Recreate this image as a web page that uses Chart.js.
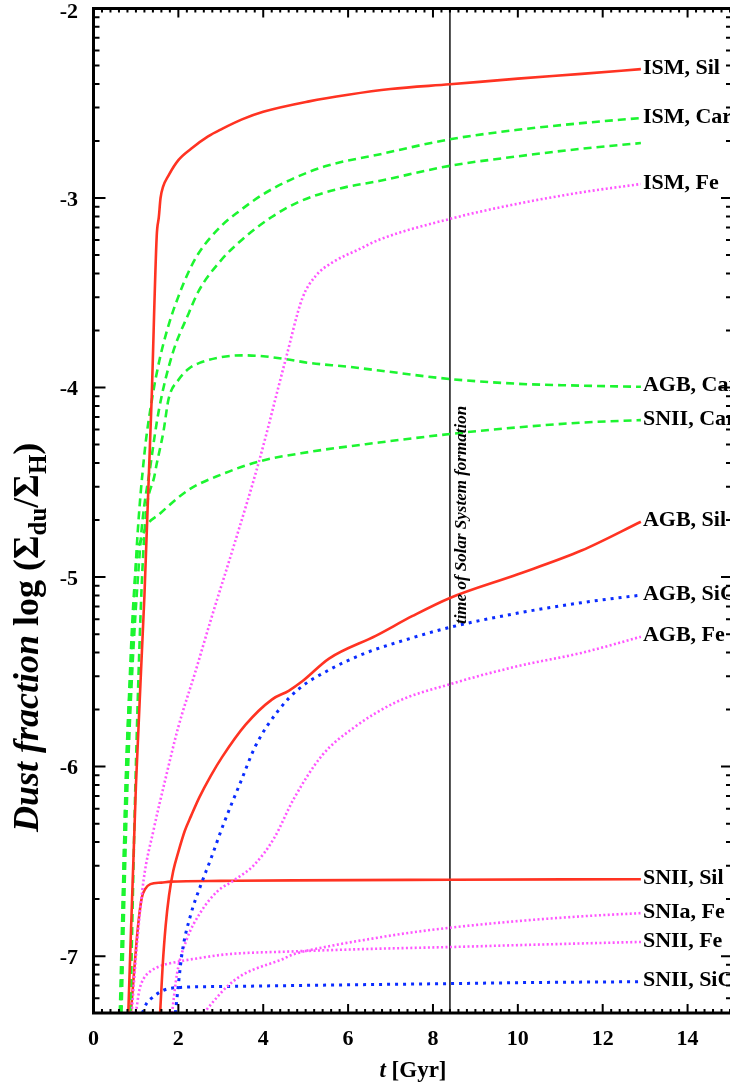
<!DOCTYPE html>
<html><head><meta charset="utf-8">
<script src="https://cdn.jsdelivr.net/npm/chart.js@4/dist/chart.umd.min.js"></script>
<style>html,body{margin:0;padding:0;background:#fff;}canvas{display:block;}</style>
</head><body>
<canvas id="c" width="730" height="1090"></canvas>
<script>
// ---- axes ----
const X_MIN = 0, X_MAX = 15, Y_MIN = -7.3, Y_MAX = -2;
const xTickValues = [0, 2, 4, 6, 8, 10, 12, 14];
const yTickValues = [-2, -3, -4, -5, -6, -7];
const tSolar = 8.4;
const solarText = 'time of Solar System formation';

// ---- series (t in Gyr, log dust fraction) ----
const ismSilT = [0.82, 1.0, 1.2, 1.37, 1.49, 1.54, 1.58, 1.64, 1.77, 2.0, 2.3, 2.7, 3.03, 3.5, 4.0, 5.08, 6.0, 7.0, 8.4, 10.0, 11.5, 12.9];
const ismSilY = [-7.3, -6.1, -5.1, -4.06, -3.2, -3.1, -3.0, -2.94, -2.88, -2.80, -2.74, -2.675, -2.635, -2.585, -2.545, -2.49, -2.455, -2.425, -2.40, -2.37, -2.345, -2.32];

const ismCarT = [0.64, 0.76, 0.9, 1.02, 1.2, 1.38, 1.55, 1.77, 2.0, 2.24, 2.48, 3.0, 3.43, 4.0, 4.68, 5.5, 6.73, 8.4, 10.0, 11.5, 12.9];
const ismCarY = [-7.3, -6.07, -5.4, -4.84, -4.35, -4.06, -3.86, -3.67, -3.52, -3.39, -3.29, -3.15, -3.07, -2.98, -2.90, -2.83, -2.77, -2.69, -2.64, -2.605, -2.578];

const ismCar2T = [0.66, 0.8, 1.1, 1.35, 1.54, 1.85, 2.24, 2.48, 3.0, 3.5, 4.2, 4.84, 5.8, 6.73, 8.4, 10.0, 11.5, 12.9];
const ismCar2Y = [-7.3, -6.1, -4.84, -4.4, -4.12, -3.83, -3.61, -3.49, -3.33, -3.22, -3.10, -3.02, -2.95, -2.91, -2.83, -2.78, -2.74, -2.71];

const ismFeT = [0.9, 1.02, 1.18, 1.42, 1.69, 2.0, 2.4, 2.8, 3.3, 3.9, 4.53, 4.92, 5.24, 5.63, 6.26, 6.73, 8.4, 10.0, 11.5, 12.9];
const ismFeY = [-7.3, -6.95, -6.60, -6.33, -6.07, -5.79, -5.50, -5.20, -4.84, -4.39, -3.85, -3.53, -3.41, -3.34, -3.27, -3.22, -3.11, -3.03, -2.97, -2.926];

const agbCarT = [0.87, 0.99, 1.18, 1.45, 1.65, 1.77, 2.0, 2.25, 2.5, 3.0, 3.5, 4.0, 4.53, 5.08, 6.0, 6.73, 8.4, 10.0, 11.5, 12.9];
const agbCarY = [-7.3, -6.07, -4.84, -4.45, -4.23, -4.06, -3.96, -3.90, -3.87, -3.84, -3.83, -3.835, -3.85, -3.87, -3.89, -3.91, -3.955, -3.98, -3.99, -3.996];

const snIICarT = [0.62, 0.75, 0.9, 1.02, 1.15, 1.25, 1.54, 2.24, 3.0, 3.9, 5.08, 6.73, 8.4, 10.0, 11.5, 12.9];
const snIICarY = [-7.3, -6.2, -5.3, -4.9, -4.79, -4.73, -4.67, -4.54, -4.46, -4.39, -4.34, -4.29, -4.245, -4.21, -4.185, -4.172];

const agbSilT = [1.57, 1.63, 1.70, 1.78, 1.88, 2.0, 2.15, 2.3, 2.5, 2.76, 3.03, 3.58, 4.21, 4.6, 4.92, 5.55, 6.65, 7.52, 8.4, 10.0, 11.5, 12.9];
const agbSilY = [-7.3, -7.05, -6.84, -6.68, -6.55, -6.45, -6.34, -6.26, -6.16, -6.05, -5.95, -5.78, -5.645, -5.60, -5.55, -5.43, -5.31, -5.205, -5.11, -4.985, -4.86, -4.708];

const agbSiCT = [1.93, 2.09, 2.28, 2.52, 2.76, 3.07, 3.47, 3.82, 4.37, 4.84, 5.55, 6.42, 7.52, 8.4, 10.0, 11.5, 12.9];
const agbSiCY = [-7.3, -6.98, -6.79, -6.63, -6.49, -6.30, -6.08, -5.89, -5.70, -5.59, -5.49, -5.40, -5.32, -5.265, -5.19, -5.135, -5.095];

const agbFeT = [1.85, 1.97, 2.2, 2.52, 2.91, 3.31, 3.78, 4.25, 4.72, 5.39, 6.1, 7.13, 8.4, 10.0, 11.5, 12.9];
const agbFeY = [-7.3, -7.09, -6.91, -6.77, -6.66, -6.60, -6.52, -6.38, -6.17, -5.94, -5.80, -5.66, -5.565, -5.47, -5.40, -5.315];

const snIISilT = [0.88, 0.95, 1.02, 1.08, 1.14, 1.22, 1.34, 1.6, 1.81, 3.0, 4.72, 8.4, 12.9];
const snIISilY = [-7.3, -7.1, -6.91, -6.78, -6.69, -6.645, -6.62, -6.612, -6.607, -6.603, -6.60, -6.597, -6.594];

const snIaFeT = [2.6, 2.9, 3.15, 3.5, 3.78, 4.41, 4.72, 5.5, 6.5, 7.5, 8.4, 10.0, 11.5, 12.9];
const snIaFeY = [-7.3, -7.22, -7.16, -7.10, -7.07, -7.02, -6.99, -6.95, -6.91, -6.875, -6.85, -6.815, -6.79, -6.773];

const snIIFeT = [1.0, 1.08, 1.18, 1.34, 1.6, 1.97, 2.5, 3.15, 4.72, 6.5, 8.4, 10.0, 11.5, 12.9];
const snIIFeY = [-7.3, -7.18, -7.12, -7.08, -7.05, -7.03, -7.01, -6.99, -6.975, -6.962, -6.952, -6.942, -6.933, -6.925];

const snIISiCT = [1.15, 1.25, 1.38, 1.65, 2.05, 3.15, 4.72, 6.5, 8.4, 10.0, 11.5, 12.9];
const snIISiCY = [-7.3, -7.25, -7.22, -7.18, -7.165, -7.16, -7.155, -7.15, -7.145, -7.14, -7.137, -7.135];

const seriesList = [
  ['ISM, Sil', 'sil', ismSilT, ismSilY],
  ['ISM, Car', 'car', ismCarT, ismCarY],
  ['', 'car', ismCar2T, ismCar2Y],
  ['ISM, Fe', 'fe', ismFeT, ismFeY],
  ['AGB, Car', 'car', agbCarT, agbCarY],
  ['SNII, Car', 'car', snIICarT, snIICarY],
  ['AGB, Sil', 'sil', agbSilT, agbSilY],
  ['AGB, SiC', 'sic', agbSiCT, agbSiCY],
  ['AGB, Fe', 'fe', agbFeT, agbFeY],
  ['SNII, Sil', 'sil', snIISilT, snIISilY],
  ['SNIa, Fe', 'fe', snIaFeT, snIaFeY],
  ['SNII, Fe', 'fe', snIIFeT, snIIFeY],
  ['SNII, SiC', 'sic', snIISiCT, snIISiCY]
];

const styles = {
  sil: {borderColor: '#ff3322', borderWidth: 2.6, borderDash: []},
  car: {borderColor: '#1cf530', borderWidth: 2.6, borderDash: [8, 5]},
  fe:  {borderColor: '#ff55ff', borderWidth: 2.6, borderDash: [2, 2.4]},
  sic: {borderColor: '#0a2cff', borderWidth: 3, borderDash: [3, 5]}
};

const datasets = seriesList.map(([name, kind, ts, ys]) => Object.assign({
  label: name,
  data: ts.map((t, i) => ({x: t, y: ys[i]})),
  pointRadius: 0,
  fill: false,
  cubicInterpolationMode: 'monotone',
  clip: 0
}, styles[kind]));

datasets.push({
  label: '__solar',
  data: [{x: tSolar, y: Y_MIN}, {x: tSolar, y: Y_MAX}],
  borderColor: '#000', borderWidth: 1.4, pointRadius: 0, clip: 0
});

const SERIF = '"Liberation Serif", "DejaVu Serif", serif';

function drawPieces(ctx, pieces, x0, y0) {
  let x = x0;
  for (const p of pieces) {
    ctx.font = p.font;
    ctx.fillText(p.text, x, y0 + (p.dy || 0));
    x += ctx.measureText(p.text).width;
  }
  return x - x0;
}
function piecesWidth(ctx, pieces) {
  let w = 0;
  for (const p of pieces) { ctx.font = p.font; w += ctx.measureText(p.text).width; }
  return w;
}

const frame = {
  id: 'frame',
  afterDraw(chart) {
    const {ctx, chartArea: a, scales: {x, y}} = chart;
    ctx.save();
    ctx.strokeStyle = '#000';
    ctx.fillStyle = '#000';
    ctx.lineCap = 'butt';

    // ticks
    ctx.lineWidth = 2;
    ctx.beginPath();
    for (let i = 0; i <= 75; i++) {
      const v = i / 5;
      const px = x.getPixelForValue(v);
      const major = (i % 10 === 0);
      const l = major ? 9 : 4;
      ctx.moveTo(px, a.bottom); ctx.lineTo(px, a.bottom - l);
      ctx.moveTo(px, a.top); ctx.lineTo(px, a.top + l);
    }
    for (let d = -8; d <= -2; d++) {
      for (let k = 1; k <= 9; k++) {
        const v = d + Math.log10(k);
        if (v < Y_MIN - 1e-9 || v > Y_MAX + 1e-9) continue;
        const py = y.getPixelForValue(v);
        const major = (k === 1);
        ctx.moveTo(a.left, py); ctx.lineTo(a.left + (major ? 12 : 6), py);
        ctx.moveTo(a.right, py); ctx.lineTo(a.right - (major ? 9 : 4), py);
      }
    }
    ctx.stroke();

    // axis lines
    ctx.lineWidth = 3;
    ctx.beginPath();
    ctx.moveTo(a.left, a.top - 1.5); ctx.lineTo(a.left, a.bottom + 1.5);
    ctx.moveTo(a.left - 1.5, a.bottom); ctx.lineTo(a.right, a.bottom);
    ctx.moveTo(a.left - 1.5, a.top); ctx.lineTo(a.right, a.top);
    ctx.stroke();

    // tick labels
    ctx.font = '700 22px ' + SERIF;
    ctx.textAlign = 'center';
    ctx.textBaseline = 'alphabetic';
    for (const v of xTickValues) {
      ctx.fillText(String(v), x.getPixelForValue(v), 1045);
    }
    ctx.textAlign = 'right';
    for (const v of yTickValues) {
      const py = y.getPixelForValue(v);
      ctx.fillText(String(v), 78, Math.max(py + 7.5, 18));
    }

    // x title
    const xt = [
      {text: 't', font: 'italic 700 23px ' + SERIF},
      {text: ' [Gyr]', font: '700 23px ' + SERIF}
    ];
    ctx.textAlign = 'left';
    const xw = piecesWidth(ctx, xt);
    drawPieces(ctx, xt, 413 - xw / 2, 1077);

    // y title
    const yt = [
      {text: 'Dust fraction', font: 'italic 700 36px ' + SERIF},
      {text: ' log (\u03A3', font: '700 36px ' + SERIF},
      {text: 'du', font: '700 25px ' + SERIF, dy: 8},
      {text: '/\u03A3', font: '700 36px ' + SERIF},
      {text: 'H', font: '700 25px ' + SERIF, dy: 8},
      {text: ')', font: '700 36px ' + SERIF}
    ];
    ctx.save();
    ctx.translate(38, 832);
    ctx.rotate(-Math.PI / 2);
    drawPieces(ctx, yt, 0, 0);
    ctx.restore();

    // solar system text
    ctx.save();
    ctx.font = 'italic 700 17px ' + SERIF;
    ctx.translate(466, 515);
    ctx.rotate(-Math.PI / 2);
    ctx.textAlign = 'center';
    ctx.fillText(solarText, 0, 0);
    ctx.restore();

    // end labels
    ctx.font = '700 22px ' + SERIF;
    ctx.textAlign = 'left';
    ctx.textBaseline = 'middle';
    chart.data.datasets.forEach((ds, i) => {
      if (!ds.label || ds.label === '__solar') return;
      const pts = chart.getDatasetMeta(i).data;
      const p = pts[pts.length - 1];
      ctx.fillText(ds.label, p.x + 2, p.y - 1);
    });
    ctx.restore();
  }
};

new Chart(document.getElementById('c'), {
  type: 'line',
  data: {datasets},
  options: {
    responsive: false,
    animation: false,
    events: [],
    layout: {padding: {left: 93.5, right: 0, top: 8.5, bottom: 77}},
    plugins: {legend: {display: false}, tooltip: {enabled: false}, title: {display: false}},
    scales: {
      x: {type: 'linear', min: X_MIN, max: X_MAX, display: false},
      y: {type: 'linear', min: Y_MIN, max: Y_MAX, display: false}
    }
  },
  plugins: [frame]
});
</script>
</body></html>
